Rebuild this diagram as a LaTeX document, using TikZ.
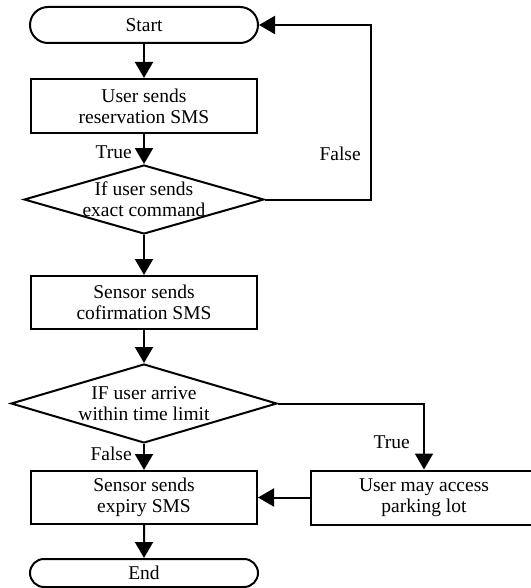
\documentclass[tikz,border=0pt]{standalone}
\usepackage{fontspec}
\setmainfont{Liberation Serif}
\usetikzlibrary{shapes.geometric,shapes.misc,arrows.meta,positioning}

\begin{document}
\begin{tikzpicture}[->,>={Triangle[width=18pt,length=16pt]},line width=2pt,
			node distance=35pt,font=\fontsize{19.5}{21}\selectfont,
			terminal/.style={rounded rectangle,draw,minimum width=228pt,minimum height=36pt,inner sep=0pt},
			process/.style={rectangle,draw,align=center,minimum width=226pt,minimum height=54pt,inner sep=0pt},
			decision/.style={diamond,draw,inner sep=0pt}]
			
			\useasboundingbox (0,0) rectangle (530pt,-588pt);
			
			\node[terminal] (start) at (144pt,-25pt) {Start};
			\node[process] (send) [below=34pt of start] {User sends\\reservation SMS};
			\node[decision,minimum width=240pt,minimum height=69pt] (check) [below=30pt of send] {};
			\node[align=center] (checktext) at (check) {If user sends\\exact command};
			\node[process,minimum height=53pt] (confirm) [below=40pt of check] {Sensor sends\\cofirmation SMS};
			\node[decision,minimum width=266pt,minimum height=79pt] (arrive) [below=33pt of confirm] {};
			\node[align=center] (arrivetext) at (arrive) {IF user arrive\\within time limit};
			\node[process,minimum height=53pt] (expiry) [below=26pt of arrive] {Sensor sends\\expiry SMS};
			\node[process] (access) [right=52pt of expiry] {User may access\\parking lot};
			\node[terminal,minimum height=28pt] (end) [below=33pt of expiry] {End};
			\coordinate[right=106pt of check.east] (loop);
			
			\path
			(start) edge (send)
			(send) edge node[pos=0.6,left=8pt] {True} (check)
			(check) edge (confirm)
			(confirm) edge (arrive)
			(arrive) edge node[pos=0.37,left=8pt] {False} (expiry)
			(expiry) edge (end)
			(access) edge (expiry)
			;
			\draw (check.east) -- (loop) |- node[pos=0.13,left=6pt] {False} (start.east);
			\draw (arrive.east) -| node[pos=0.795,left=10pt] {True} (access.north);
			\end{tikzpicture}
\end{document}
